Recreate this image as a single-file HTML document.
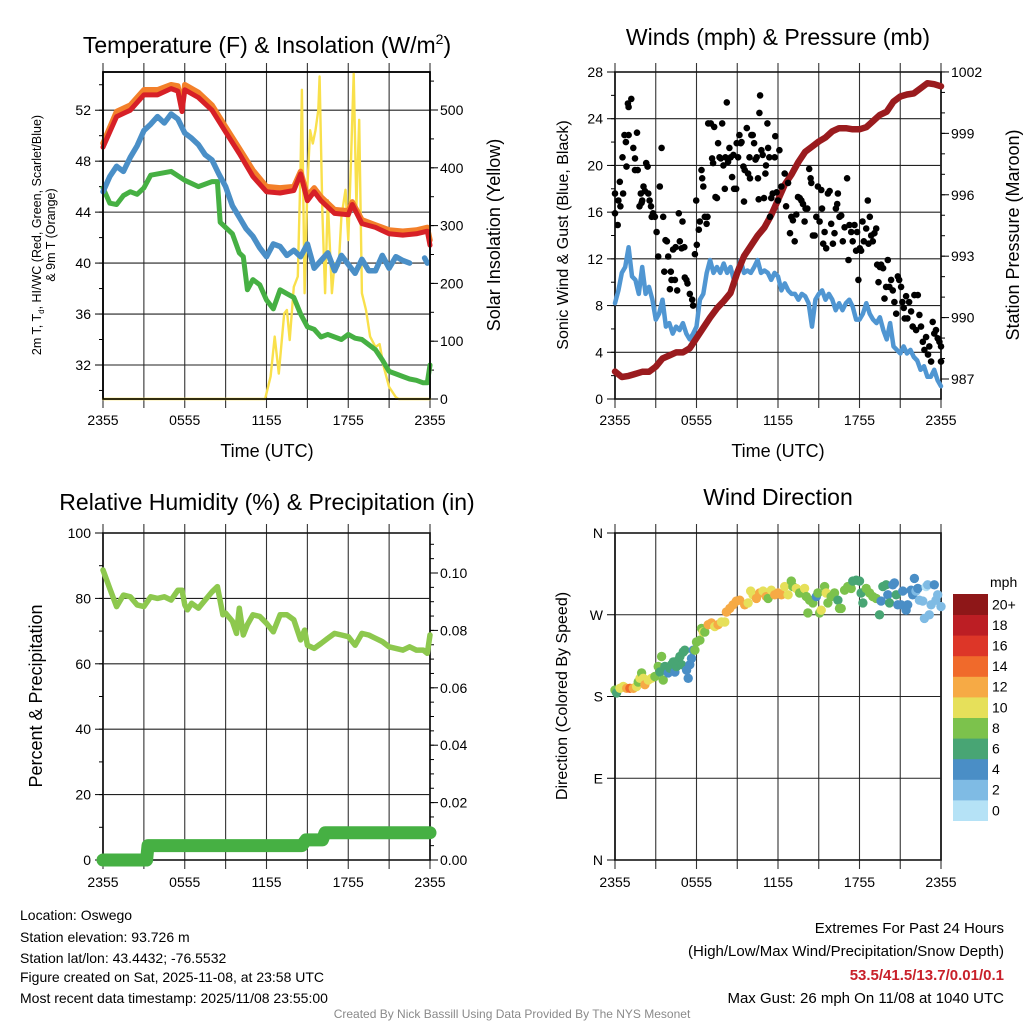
<!DOCTYPE html>
<html><head><meta charset="utf-8"><style>
body{margin:0;background:#fff}
svg{display:block;font-family:"Liberation Sans",Arial,sans-serif}
</style></head><body>
<svg id="fig" width="1024" height="1024" viewBox="0 0 1024 1024" xmlns="http://www.w3.org/2000/svg">
<rect width="1024" height="1024" fill="#fff"/>
<g id="p1"></g>
<g id="p2"></g>
<g id="p3"></g>
<g id="p4"></g>
<g font-size="23" text-anchor="middle" fill="#000">
<text x="267" y="53">Temperature (F) &amp; Insolation (W/m<tspan font-size="14" dy="-9">2</tspan><tspan dy="9">)</tspan></text>
<text x="778" y="45">Winds (mph) &amp; Pressure (mb)</text>
<text x="267" y="510">Relative Humidity (%) &amp; Precipitation (in)</text>
<text x="778" y="505">Wind Direction</text>
</g>
<g fill="#000" text-anchor="middle">
<text font-size="12.5" transform="translate(41,235) rotate(-90)">2m T, T<tspan font-size="8" dy="3">d</tspan><tspan dy="-3">, HI/WC (Red, Green, Scarlet/Blue)</tspan></text>
<text font-size="12.5" transform="translate(55,235) rotate(-90)">&amp; 9m T (Orange)</text>
<text font-size="18" transform="translate(500,235) rotate(-90)">Solar Insolation (Yellow)</text>
<text font-size="18" x="267" y="457">Time (UTC)</text>
<text font-size="16" transform="translate(568,235) rotate(-90)">Sonic Wind &amp; Gust (Blue, Black)</text>
<text font-size="18" transform="translate(1019,235) rotate(-90)">Station Pressure (Maroon)</text>
<text font-size="18" x="778" y="457">Time (UTC)</text>
<text font-size="18" transform="translate(42,696) rotate(-90)">Percent &amp; Precipitation</text>
<text font-size="16" transform="translate(567,696) rotate(-90)">Direction (Colored By Speed)</text>
</g>
<g font-size="14" fill="#000">
<text x="20" y="920">Location: Oswego</text>
<text x="20" y="942">Station elevation: 93.726 m</text>
<text x="20" y="963">Station lat/lon: 43.4432; -76.5532</text>
<text x="20" y="982">Figure created on Sat, 2025-11-08, at 23:58 UTC</text>
<text x="20" y="1003">Most recent data timestamp: 2025/11/08 23:55:00</text>
</g>
<g font-size="15" fill="#000" text-anchor="end">
<text x="1004" y="933">Extremes For Past 24 Hours</text>
<text x="1004" y="956">(High/Low/Max Wind/Precipitation/Snow Depth)</text>
<text x="1004" y="980" fill="#c8202a" font-weight="bold">53.5/41.5/13.7/0.01/0.1</text>
<text x="1004" y="1003">Max Gust: 26 mph On 11/08 at 1040 UTC</text>
</g>
<text x="512" y="1018" font-size="12" fill="#8a8a8a" text-anchor="middle">Created By Nick Bassill Using Data Provided By The NYS Mesonet</text>
</svg>
<script>
// ---- Temperature panel data ----
const tempT=[0,1,2,3,4,5,5.5,5.8,6,7,8,9,10,11,12,13,14,14.5,15,15.5,16,17,18,18.3,19,20,21,22,23,23.8,24];
const temp2m=[49.1,51.5,52,53.2,53.2,53.7,53.5,51.9,53.6,53,52,50.3,48.6,46.8,45.6,45.5,45.7,47,44.9,45.6,44.9,43.9,43.8,44.6,43.1,42.8,42.3,42.2,42.3,42.5,41.4];
const temp9m=[49.4,51.9,52.4,53.6,53.6,54.0,53.9,52.3,54.0,53.4,52.4,50.7,49.0,47.3,46.0,45.9,46.0,47.2,45.3,45.9,45.2,44.2,44.1,44.8,43.4,43.0,42.6,42.5,42.6,42.8,41.8];
const wcT=[0,0.5,1,1.5,2,2.5,3,3.5,4,4.5,5,5.5,6,6.5,7,7.5,8,8.5,9,9.5,10,10.5,11,11.5,12,12.5,13,13.5,14,14.5,15,15.5,16,16.5,17,17.5,18,18.5,19,19.5,20,20.5,21,21.5,22,22.5,23,23.6,23.8];
const windChill=[45.6,46.8,47.6,47.2,48.3,49.2,50.4,50.9,51.5,51.0,51.7,51.3,50.2,49.8,49.3,48.5,48.1,47.0,46.0,44.5,43.6,42.7,42.1,41.2,40.5,41.5,41.3,40.6,41.0,40.5,41.5,39.6,40.2,40.8,39.4,40.6,39.9,39.2,40.3,39.4,39.4,40.6,39.6,40.5,40.2,40.0,null,40.4,40.0];
const dewT=[0,0.5,1,1.5,2,2.5,3,3.5,4,5,6,7,8,8.4,8.6,9,9.5,10,10.3,10.6,11,11.5,12,12.5,13,13.5,14,14.5,15,15.5,16,16.5,17,17.5,18,18.5,19,19.5,20,20.5,21,21.5,22,22.5,23,23.5,23.8,24];
const dewPoint=[45.9,44.7,44.6,45.3,45.6,45.4,45.9,46.9,47.0,47.2,46.5,46.0,46.4,46.4,43.2,42.8,42.3,40.8,40.5,37.9,38.7,38.3,37.1,36.4,37.9,37.6,37.3,36.0,35.0,34.8,34.2,34.4,34.2,34.0,34.4,34.1,34.0,33.6,33.2,32.4,31.5,31.3,31.1,30.9,30.8,30.6,30.6,32.0];
const solarT=[0,11.9,12.3,12.6,12.9,13.3,13.5,13.7,14,14.3,14.5,14.6,14.8,15,15.2,15.4,15.6,15.8,15.9,16.1,16.3,16.5,16.8,17,17.3,17.5,17.8,18,18.2,18.4,18.6,18.8,19,19.3,19.6,20,20.3,20.6,21,21.5,21.7,24];
const solar=[0,0,39,108,44,148,154,102,194,212,402,535,183,367,465,442,465,500,558,321,183,344,183,235,230,315,362,275,413,563,333,483,183,154,108,90,95,56,21,3,0,0];
const tempTicks=[32,36,40,44,48,52];
const solarTicks=[0,100,200,300,400,500];
const timeTickLabels=["2355","0555","1155","1755","2355"];
// ---- Winds panel data ----
const sonicWind=[8.2,9.3,10.8,11.3,13.0,10.5,10.2,9.0,11.3,9.0,9.6,8.5,6.8,7.3,8.5,6.2,6.5,5.6,6.2,5.9,6.5,5.6,5.1,5.6,6.2,8.5,9.0,10.8,11.9,10.8,11.3,10.8,11.6,10.8,11.3,10.2,11.0,11.9,10.8,11.0,10.8,11.3,11.9,10.8,11.0,10.8,10.2,10.8,10.5,9.3,9.9,9.3,9.0,9.0,8.5,9.0,8.8,8.2,6.2,8.5,9.0,9.3,8.5,9.0,8.5,7.6,8.2,7.6,8.2,8.5,7.9,6.8,6.8,7.3,8.2,7.3,6.8,6.5,7.0,5.9,5.1,6.5,4.5,4.2,3.9,4.5,3.9,4.2,3.6,3.3,2.5,2.8,1.9,1.9,2.5,1.6,1.1];
const pressure=[987.36,987.1,987.15,987.25,987.35,987.35,987.6,988.0,988.15,988.3,988.3,988.5,989.0,989.5,990.0,990.45,990.8,991.2,992.2,993.0,993.5,994.0,994.4,995.0,995.75,996.5,997.0,997.6,998.1,998.35,998.6,998.8,999.1,999.25,999.25,999.2,999.2,999.3,999.6,999.9,1000.06,1000.55,1000.8,1000.9,1000.95,1001.2,1001.45,1001.4,1001.3];
const gustT=[0,0,0.2,0.25,0.4,0.35,0.55,0.6,0.7,0.8,0.85,0.95,1.0,1.0,1.2,1.35,1.47,1.47,1.67,1.62,1.8,1.9,1.96,2.0,2.1,2.2,2.3,2.4,2.45,2.55,2.65,2.7,2.8,2.94,3.06,3.18,3.3,3.43,3.55,3.63,3.72,3.82,3.92,4.04,4.11,4.16,4.28,4.41,4.46,4.58,4.7,4.77,4.9,4.97,5.1,5.14,5.26,5.34,5.51,5.68,5.75,5.88,5.98,6.02,6.17,6.24,6.37,6.42,6.5,6.61,6.74,6.81,6.86,7.05,7.15,7.22,7.3,7.4,7.5,7.59,7.69,7.79,7.89,7.98,8.08,8.13,8.23,8.33,8.42,8.52,8.62,8.72,8.77,8.92,8.96,9.06,9.16,9.26,9.31,9.45,9.5,9.55,9.7,9.8,9.9,9.94,10.04,10.14,10.24,10.34,10.43,10.53,10.58,10.63,10.68,10.78,10.87,10.97,11.07,11.12,11.22,11.27,11.36,11.41,11.51,11.61,11.76,11.8,11.9,12.0,12.1,12.25,12.49,12.6,12.74,12.88,12.98,13.1,13.23,13.35,13.47,13.6,13.72,13.84,13.96,14.03,14.16,14.3,14.4,14.45,14.57,14.7,14.82,14.94,15.06,15.19,15.24,15.33,15.43,15.55,15.67,15.8,15.92,16.04,16.16,16.26,16.36,16.41,16.53,16.65,16.77,16.9,17.09,17.19,17.26,17.39,17.5,17.63,17.75,17.82,17.92,18.02,18.12,18.22,18.32,18.49,18.61,18.66,18.76,18.86,18.98,19.1,19.23,19.3,19.4,19.5,19.59,19.74,19.84,19.96,20.08,20.2,20.33,20.45,20.57,20.7,20.82,20.92,21.06,21.16,21.26,21.33,21.43,21.53,21.65,21.8,21.92,22.04,22.17,22.29,22.41,22.53,22.66,22.78,22.9,23.04,23.14,23.27,23.39,23.51,23.63,23.76,23.88,24.0,24.0];
const gust=[17.6,15.9,14.9,17.0,16.5,18.6,20.7,17.6,22.6,22.0,19.9,25.3,22.6,25.0,25.7,21.5,20.6,19.6,19.6,22.8,16.5,17.6,16.8,17.0,18.2,17.8,20.2,19.9,17.6,17.0,16.5,15.6,15.9,15.6,14.3,12.2,18.2,21.5,15.6,10.9,13.6,13.5,12.2,9.4,10.9,10.2,12.8,10.2,13.0,9.3,15.9,13.5,12.9,15.2,13.0,10.4,10.2,9.9,9.0,8.5,8.0,12.4,17.0,13.2,14.5,15.2,19.6,18.9,18.2,15.6,15.0,15.6,23.6,23.6,20.6,20.2,23.3,17.3,17.2,21.9,20.7,20.6,23.6,20.0,18.0,20.7,25.4,20.3,21.5,20.7,19.0,20.9,18.0,18.0,21.9,20.7,22.6,21.9,22.0,19.9,16.9,19.6,23.2,19.3,20.7,18.9,22.6,22.6,21.9,20.5,20.7,18.9,17.1,24.5,26.0,21.3,20.9,17.2,19.3,20.0,23.6,21.5,20.7,15.6,17.2,17.6,20.7,22.5,17.7,17.0,21.3,18.2,19.3,16.5,18.5,14.2,15.6,15.3,13.5,15.8,17.3,17.2,17.0,16.7,15.2,16.3,16.3,19.7,18.9,18.5,14.0,14.0,15.6,18.2,15.2,17.9,16.3,13.3,14.3,12.9,17.6,17.8,15.0,13.3,14.2,16.3,16.7,17.6,15.6,15.7,13.5,14.7,18.9,11.9,14.9,14.3,13.5,14.9,12.7,14.3,10.2,12.9,12.7,15.2,13.5,14.6,17.0,13.3,15.6,14.0,13.5,14.2,14.6,11.5,10.0,11.3,11.5,11.2,8.6,9.6,11.9,9.6,10.2,9.3,8.3,7.3,10.5,10.2,9.6,8.3,7.8,6.9,8.8,6.9,8.3,7.5,6.2,8.9,5.9,8.9,7.2,6.2,4.9,4.2,5.3,3.8,4.5,3.2,6.6,5.6,5.9,5.2,4.9,4.5,3.2];
const windTicks=[0,4,8,12,16,20,24,28];
const presTicks=[987,990,993,996,999,1002];
// ---- Humidity panel data ----
const rhT=[0,0.5,1,1.5,2,2.5,3,3.5,4,4.5,5,5.5,5.8,6,6.2,6.5,7,7.5,8,8.4,8.8,9,9.5,9.8,10,10.3,10.6,11,11.5,12,12.5,13,13.5,14,14.5,14.8,15,15.5,16,16.5,17,17.5,18,18.5,19,19.5,20,20.5,21,21.5,22,22.5,23,23.5,23.8,24];
const rh=[88.7,83,77.5,81,80.5,78,77.5,80.5,80,80.5,79.5,82.5,82.5,78,76.5,78.5,77,79.5,82,83.6,75,75.5,73,69.3,77,68.8,72,75,74.5,72.4,69.8,75,75,73.5,67.3,70.3,65.7,64.7,66.2,67.8,69.3,68.8,68.3,65.7,69.3,68.8,67.8,66.8,65.2,64.7,64.2,65.2,64.2,64.2,63.2,68.8];
const precipT=[0,3.2,3.3,14.6,14.9,16.1,16.3,24];
const precip=[0,0,0.005,0.005,0.007,0.007,0.0095,0.0095];
const rhTicks=[0,20,40,60,80,100];
const precipTicks=[0,0.02,0.04,0.06,0.08,0.10];
// ---- Wind direction panel data ----
const dirT=[0,0.12,0.37,0.61,0.86,1.1,1.35,1.59,1.71,1.84,1.96,2.08,2.2,2.45,2.69,2.94,3.18,3.31,3.43,3.55,3.67,3.92,4.04,4.16,4.29,4.41,4.53,4.65,4.78,4.9,5.02,5.14,5.27,5.39,5.51,5.63,5.76,5.88,6.0,6.25,6.37,6.49,6.61,6.86,7.1,7.35,7.59,7.84,8.08,8.2,8.45,8.69,8.94,9.18,9.55,9.8,9.99,10.16,10.41,10.65,10.9,11.14,11.27,11.51,11.76,12.0,12.25,12.49,12.74,12.98,13.1,13.35,13.59,13.84,13.96,14.08,14.2,14.33,14.57,14.82,14.94,15.06,15.18,15.43,15.55,15.67,15.92,16.16,16.41,16.53,16.65,16.9,17.14,17.39,17.51,17.76,18.0,18.12,18.25,18.49,18.74,18.98,19.23,19.47,19.59,19.72,19.96,20.08,20.21,20.45,20.57,20.7,20.82,21.06,21.19,21.43,21.55,21.8,21.92,22.04,22.16,22.29,22.41,22.65,22.78,22.9,23.02,23.14,23.27,23.51,23.63,23.76,24.0];
const dirDeg=[187,184,189,191,189,189,189,191,196,200,206,200,193,198,200,202,213,207,224,198,213,206,211,215,218,207,213,220,224,215,229,231,209,200,215,222,231,231,240,242,255,251,251,259,261,257,259,262,262,273,277,281,285,286,281,283,296,292,288,294,296,290,288,297,292,294,292,301,292,307,301,299,294,294,299,290,272,286,283,290,294,272,275,301,294,283,290,294,286,277,277,297,301,299,307,308,307,294,283,299,294,290,288,270,285,301,303,292,283,303,305,292,281,281,296,275,281,297,292,310,296,299,286,285,266,301,303,270,281,303,286,292,279];
const dirSpeed=[8,6,10,10,12,14,12,10,8,10,8,10,12,10,10,8,8,6,8,8,6,4,6,6,6,4,6,6,6,6,6,6,4,4,4,4,4,8,8,8,8,10,8,12,12,10,12,10,10,12,12,12,12,12,12,10,10,10,12,12,10,12,8,10,12,12,12,10,10,8,8,10,8,8,10,8,8,8,8,4,8,8,10,8,10,8,8,8,6,8,8,8,8,8,6,6,6,6,6,8,8,8,8,6,4,6,6,4,6,4,4,6,4,4,4,4,4,4,4,4,2,4,2,2,2,0,2,2,2,4,2,2,2];
const dirLabels=["N","E","S","W","N"];
const speedColors=["#b5e2f6","#7fbbe4","#4a8ec6","#48a574","#7cc24c","#e6e05a","#f6aa45","#f06a2b","#dd3628","#bc1e24","#8e1718"];
const speedLabels=["0","2","4","6","8","10","12","14","16","18","20+"];

const NS="http://www.w3.org/2000/svg";
function el(parent,tag,attrs){const e=document.createElementNS(NS,tag);for(const k in attrs)e.setAttribute(k,attrs[k]);parent.appendChild(e);return e;}
function txt(parent,x,y,s,anchor,size){const t=el(parent,'text',{x:x,y:y,'text-anchor':anchor,'font-size':size,fill:'#000'});t.textContent=s;return t;}
function panelFrame(g,x0,x1,y0,y1){
  for(let i=0;i<=8;i++){const x=x0+(x1-x0)*i/8;
    const v=el(g,'line',{x1:x,x2:x,y1:y0-9,y2:y1+9,stroke:'#333','stroke-width':1.1});
    
    }
  const r=el(g,'rect',{x:x0,y:y0,width:x1-x0,height:y1-y0,fill:'none',stroke:'#000','stroke-width':1.6});
  
  
}
function yAxisL(g,x0,x1,yf,ticks,minor,labels,grid){
  ticks.forEach((v,i)=>{const y=yf(v);
    if(grid){const l=el(g,'line',{x1:x0,x2:x1,y1:y,y2:y,stroke:'#222','stroke-width':1.1});
      
      }
    el(g,'line',{x1:x0-8,x2:x0,y1:y,y2:y,stroke:'#000','stroke-width':1});
    const t=txt(g,x0-12,y+5,labels?labels[i]:String(v),'end',14);
    
    });
  minor.forEach(v=>{const y=yf(v);el(g,'line',{x1:x0-4,x2:x0,y1:y,y2:y,stroke:'#000','stroke-width':1});});
}
function yAxisR(g,x1,yf,ticks,minor,fmt){
  ticks.forEach(v=>{const y=yf(v);
    el(g,'line',{x1:x1,x2:x1+8,y1:y,y2:y,stroke:'#000','stroke-width':1});
    const t=txt(g,x1+10,y+5,fmt(v),'start',14);
    
    });
  minor.forEach(v=>{const y=yf(v);el(g,'line',{x1:x1,x2:x1+4,y1:y,y2:y,stroke:'#000','stroke-width':1});});
}
function xLabels(g,xf,y){
  timeTickLabels.forEach((s,i)=>{const t=txt(g,xf(i*6),y,s,'middle',14);
    
    });
}
function path(g,ts,vs,xf,yf,color,w,name){
  let d='',pen=false;
  for(let i=0;i<vs.length;i++){if(vs[i]===null||vs[i]===undefined){pen=false;continue;}
    d+=(pen?'L':'M')+xf(ts[i]).toFixed(1)+' '+yf(vs[i]).toFixed(1);pen=true;}
  const p=el(g,'path',{d:d,fill:'none',stroke:color,'stroke-width':w,'stroke-linejoin':'round','stroke-linecap':'round'});
  
  
  return p;
}
function range(a,b,s){const r=[];for(let v=a;v<=b+1e-9;v+=s)r.push(+v.toFixed(4));return r;}

// Panel 1
(function(){
  const g=document.getElementById('p1');const X0=103,X1=430,Y0=72,Y1=399;
  const xf=t=>X0+(X1-X0)*t/24;
  const yf=v=>Y1-(v-29.33)*(Y1-Y0)/(55.0-29.33);
  const sf=s=>Y1-s*0.578;
  panelFrame(g,X0,X1,Y0,Y1);
  yAxisL(g,X0,X1,yf,tempTicks,range(30,54,2),null,true);
  yAxisR(g,X1,sf,solarTicks,range(50,550,50),v=>String(v));
  xLabels(g,xf,425);
  const cg=el(g,'g',{});
  
  
  path(cg,solarT,solar,xf,sf,'#f9e04b',2.4,'solar-insolation-line');
  path(cg,dewT,dewPoint,xf,yf,'#46b043',5,'dewpoint-line');
  path(cg,wcT,windChill,xf,yf,'#4a8fc7',5.5,'wind-chill-line');
  path(cg,tempT,temp9m,xf,yf,'#f3802a',5.5,'temp-9m-line');
  path(cg,tempT,temp2m,xf,yf,'#d72027',5,'temp-2m-line');
  el(g,'rect',{x:X0,y:Y0,width:X1-X0,height:Y1-Y0,fill:'none',stroke:'#000','stroke-width':1.6});
})();

// Panel 2
(function(){
  const g=document.getElementById('p2');const X0=615,X1=941,Y0=72,Y1=399;
  const xf=t=>X0+(X1-X0)*t/24;
  const yf=v=>Y1-v*(Y1-Y0)/28;
  const pf=p=>379-(p-987)*20.47;
  panelFrame(g,X0,X1,Y0,Y1);
  yAxisL(g,X0,X1,yf,windTicks,range(2,26,2),null,true);
  yAxisR(g,X1,pf,presTicks,range(987,1002,1),v=>String(v));
  xLabels(g,xf,425);
  const n=sonicWind.length;const wt=sonicWind.map((_,i)=>i*24/(n-1));
  path(g,wt,sonicWind,xf,yf,'#5096d2',4.5,'sonic-wind-line');
  const m=pressure.length;const pt=pressure.map((_,i)=>i*24/(m-1));
  path(g,pt,pressure,xf,pf,'#9a1b1e',6.5,'pressure-line');
  const dg=el(g,'g',{fill:'#000'});
  
  
  gustT.forEach((t,i)=>{const c=el(dg,'circle',{cx:xf(t).toFixed(1),cy:yf(gust[i]).toFixed(1),r:3.3});
    
    });
})();

// Panel 3
(function(){
  const g=document.getElementById('p3');const X0=103,X1=430,Y0=533,Y1=860;
  const xf=t=>X0+(X1-X0)*t/24;
  const yf=v=>Y1-v*(Y1-Y0)/100;
  const pf=p=>Y1-p*2870;
  panelFrame(g,X0,X1,Y0,Y1);
  yAxisL(g,X0,X1,yf,rhTicks,range(10,90,10),null,true);
  yAxisR(g,X1,pf,precipTicks,range(0.005,0.11,0.005),v=>v.toFixed(2));
  xLabels(g,xf,887);
  path(g,rhT,rh,xf,yf,'#8dc84e',5.5,'relative-humidity-line');
  path(g,precipT,precip,xf,pf,'#46b043',13,'precipitation-line');
})();

// Panel 4
(function(){
  const g=document.getElementById('p4');const X0=615,X1=941,Y0=533,Y1=860;
  const xf=t=>X0+(X1-X0)*t/24;
  const yf=d=>Y1-d*(Y1-Y0)/360;
  panelFrame(g,X0,X1,Y0,Y1);
  yAxisL(g,X0,X1,yf,[0,90,180,270,360],[],dirLabels,true);
  xLabels(g,xf,887);
  const dg=el(g,'g',{});
  
  
  dirT.forEach((t,i)=>{const idx=Math.min(10,Math.max(0,Math.floor(dirSpeed[i]/2)));
    const c=el(dg,'circle',{cx:xf(t).toFixed(1),cy:yf(dirDeg[i]).toFixed(1),r:4.7,fill:speedColors[idx]});
    
    });
  const cb=el(g,'g',{});
  
  
  const bh=20.6,top=594;
  const u=txt(cb,990,587,'mph','start',14);
  
  
  speedColors.forEach((c,i)=>{const j=10-i;const y=top+j*bh;
    const r=el(cb,'rect',{x:953,y:y,width:35,height:bh+0.4,fill:c});
    
    
    const t=txt(cb,992,y+bh/2+5,speedLabels[i],'start',14);
    
    });
})();
</script>
</body></html>
